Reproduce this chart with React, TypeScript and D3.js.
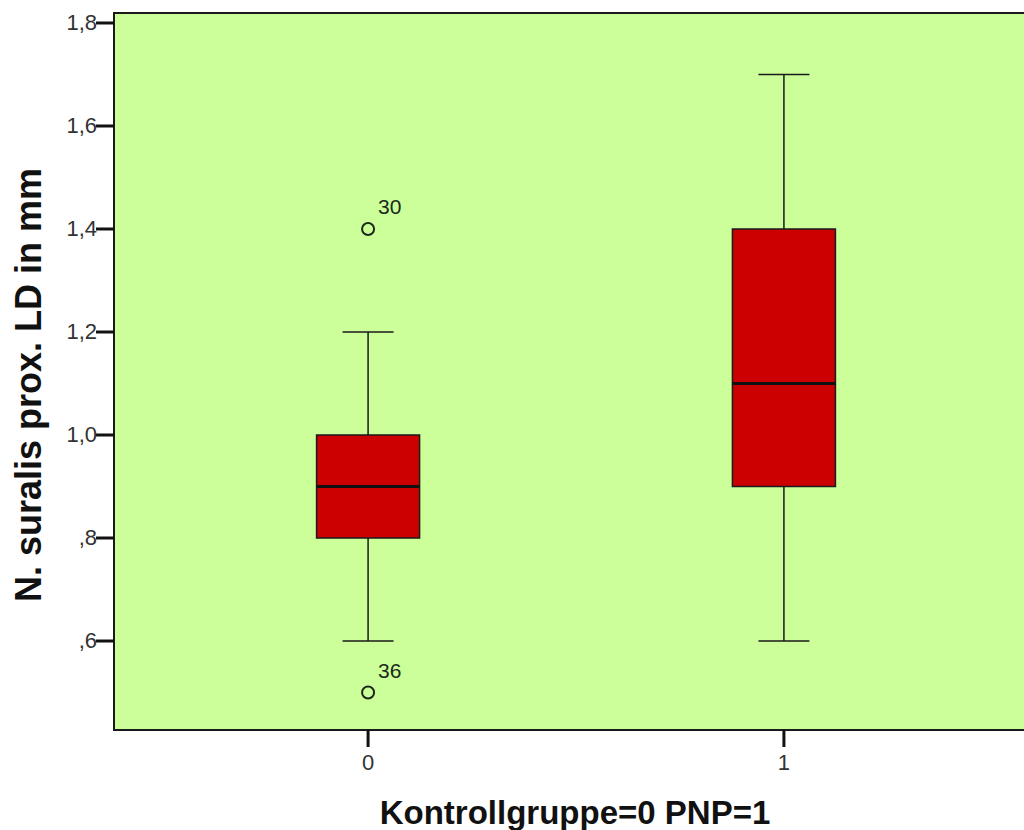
import React from 'react';
import * as d3 from 'd3';

const groups = ['0', '1'];
const whiskerLow = [0.6, 0.6];
const q1 = [0.8, 0.9];
const median = [0.9, 1.1];
const q3 = [1.0, 1.4];
const whiskerHigh = [1.2, 1.7];
const outlierGroup = ['0', '0'];
const outlierValue = [1.4, 0.5];
const outlierLabel = ['30', '36'];
const yTicks = [0.6, 0.8, 1.0, 1.2, 1.4, 1.6, 1.8];

const W = 1024;
const H = 830;
const left = 114;
const top = 13;
const right = 1038;
const bottom = 730;

const App = () => {
  const y = d3.scaleLinear().domain([0.4272, 1.8194]).range([bottom, top]);
  const x = d3.scalePoint().domain(groups).range([left, right]).padding(0.611);
  const boxW = 103;
  const capW = 51;
  const fmt = (v: number) => {
    const s = v.toFixed(1).replace('.', ',');
    return s.startsWith('0') ? s.slice(1) : s;
  };

  return (
    <svg width={W} height={H} style={{ position: 'absolute', left: 0, top: 0, background: '#fff' }}
      fontFamily="'Liberation Sans', Arial, sans-serif">
      <rect x={left} y={top} width={right - left} height={bottom - top} fill="#ccff99" stroke="#1a1a1a" strokeWidth={2} />

      {groups.map((g, i) => {
        const cx = x(g)!;
        return (
          <g key={g}>
            <line x1={cx} x2={cx} y1={y(whiskerHigh[i])} y2={y(q3[i])} stroke="#1a1a1a" strokeWidth={1.5} />
            <line x1={cx} x2={cx} y1={y(q1[i])} y2={y(whiskerLow[i])} stroke="#1a1a1a" strokeWidth={1.5} />
            <line x1={cx - capW / 2} x2={cx + capW / 2} y1={y(whiskerHigh[i])} y2={y(whiskerHigh[i])} stroke="#1a1a1a" strokeWidth={1.5} />
            <line x1={cx - capW / 2} x2={cx + capW / 2} y1={y(whiskerLow[i])} y2={y(whiskerLow[i])} stroke="#1a1a1a" strokeWidth={1.5} />
            <rect x={cx - boxW / 2} y={y(q3[i])} width={boxW} height={y(q1[i]) - y(q3[i])}
              fill="#cc0000" stroke="#1a1a1a" strokeWidth={1.5} />
            <line x1={cx - boxW / 2} x2={cx + boxW / 2} y1={y(median[i])} y2={y(median[i])} stroke="#111" strokeWidth={3} />
          </g>
        );
      })}

      {outlierValue.map((v, i) => {
        const cx = x(outlierGroup[i])!;
        return (
          <g key={i}>
            <circle cx={cx} cy={y(v)} r={6} fill="none" stroke="#1a2a1a" strokeWidth={2} />
            <text x={cx + 10} y={y(v) - 15} fontSize={21} fill="#1a2a1a">{outlierLabel[i]}</text>
          </g>
        );
      })}

      {yTicks.map((t) => (
        <g key={t}>
          <line x1={left - 18} x2={left} y1={y(t)} y2={y(t)} stroke="#111" strokeWidth={3} />
          <text x={left - 17} y={y(t)} dy="0.3em" textAnchor="end" fontSize={22} fill="#333">{fmt(t)}</text>
        </g>
      ))}

      {groups.map((g) => (
        <g key={g}>
          <line x1={x(g)!} x2={x(g)!} y1={bottom} y2={bottom + 17} stroke="#111" strokeWidth={3} />
          <text x={x(g)!} y={bottom + 40} textAnchor="middle" fontSize={22} fill="#333">{g}</text>
        </g>
      ))}

      <text x={575} y={824} textAnchor="middle" fontSize={33} fontWeight="bold" fill="#111">
        Kontrollgruppe=0 PNP=1
      </text>
      <text transform="translate(41,385) rotate(-90)" textAnchor="middle" fontSize={36} fontWeight="bold" fill="#111">
        N. suralis prox. LD in mm
      </text>
    </svg>
  );
};

export default App;
